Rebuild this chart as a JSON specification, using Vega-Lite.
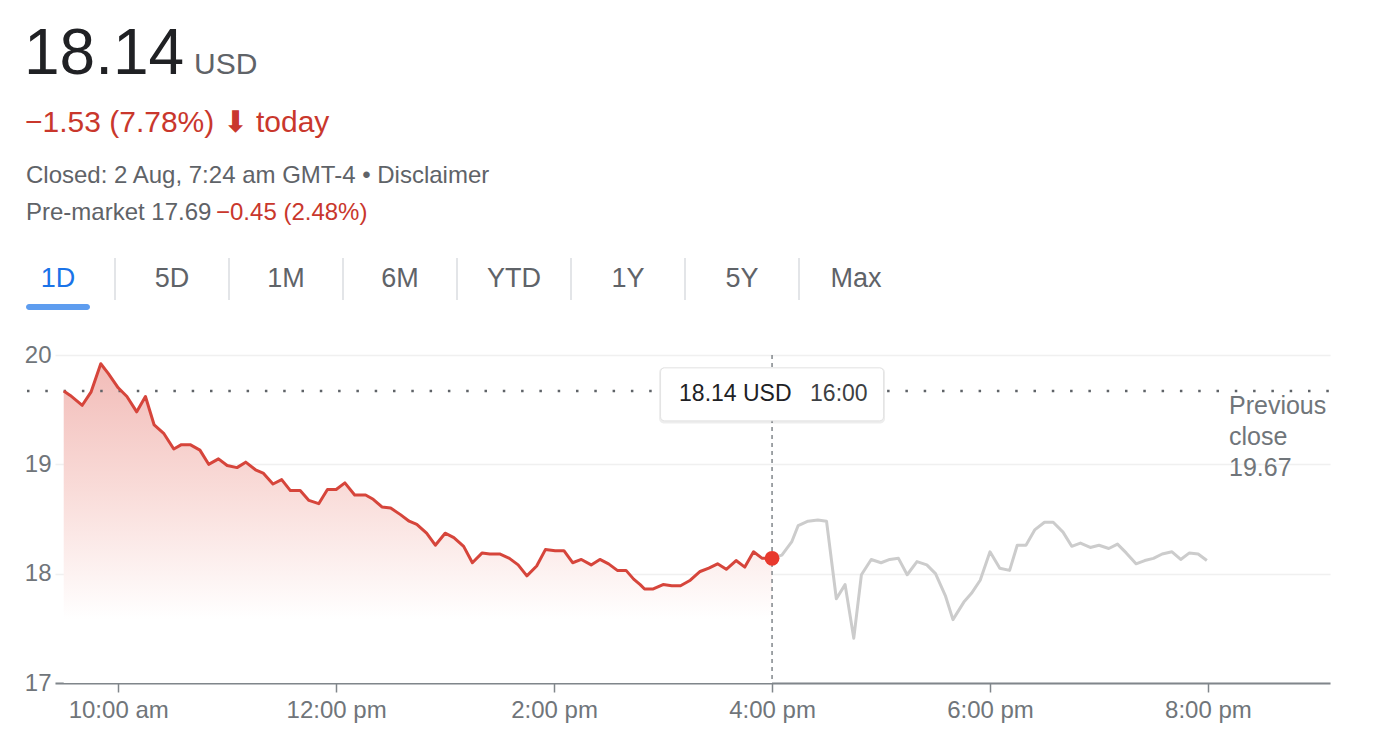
{
  "$schema": "https://vega.github.io/schema/vega-lite/v6.json",
  "background": "white",
  "padding": {"left": 24, "top": 10, "right": 52, "bottom": 28},
  "bounds": "flush",
  "spacing": 55,
  "config": {"font": "Liberation Sans", "view": {"stroke": null}},
  "datasets": {
    "prices": [
      {"t": 9.5, "price": 19.67, "session": "regular"},
      {"t": 9.56, "price": 19.63, "session": "regular"},
      {"t": 9.67, "price": 19.54, "session": "regular"},
      {"t": 9.75, "price": 19.66, "session": "regular"},
      {"t": 9.84, "price": 19.92, "session": "regular"},
      {"t": 9.91, "price": 19.83, "session": "regular"},
      {"t": 10.0, "price": 19.70, "session": "regular"},
      {"t": 10.08, "price": 19.62, "session": "regular"},
      {"t": 10.17, "price": 19.48, "session": "regular"},
      {"t": 10.25, "price": 19.62, "session": "regular"},
      {"t": 10.33, "price": 19.36, "session": "regular"},
      {"t": 10.42, "price": 19.28, "session": "regular"},
      {"t": 10.51, "price": 19.14, "session": "regular"},
      {"t": 10.58, "price": 19.18, "session": "regular"},
      {"t": 10.66, "price": 19.18, "session": "regular"},
      {"t": 10.75, "price": 19.13, "session": "regular"},
      {"t": 10.83, "price": 19.00, "session": "regular"},
      {"t": 10.92, "price": 19.05, "session": "regular"},
      {"t": 11.0, "price": 18.99, "session": "regular"},
      {"t": 11.09, "price": 18.97, "session": "regular"},
      {"t": 11.17, "price": 19.02, "session": "regular"},
      {"t": 11.26, "price": 18.95, "session": "regular"},
      {"t": 11.33, "price": 18.92, "session": "regular"},
      {"t": 11.42, "price": 18.82, "session": "regular"},
      {"t": 11.5, "price": 18.86, "session": "regular"},
      {"t": 11.58, "price": 18.76, "session": "regular"},
      {"t": 11.67, "price": 18.76, "session": "regular"},
      {"t": 11.75, "price": 18.67, "session": "regular"},
      {"t": 11.84, "price": 18.64, "session": "regular"},
      {"t": 11.92, "price": 18.77, "session": "regular"},
      {"t": 12.0, "price": 18.77, "session": "regular"},
      {"t": 12.08, "price": 18.83, "session": "regular"},
      {"t": 12.17, "price": 18.72, "session": "regular"},
      {"t": 12.27, "price": 18.72, "session": "regular"},
      {"t": 12.34, "price": 18.68, "session": "regular"},
      {"t": 12.42, "price": 18.61, "session": "regular"},
      {"t": 12.5, "price": 18.60, "session": "regular"},
      {"t": 12.59, "price": 18.54, "session": "regular"},
      {"t": 12.67, "price": 18.48, "session": "regular"},
      {"t": 12.74, "price": 18.45, "session": "regular"},
      {"t": 12.83, "price": 18.37, "session": "regular"},
      {"t": 12.91, "price": 18.26, "session": "regular"},
      {"t": 13.0, "price": 18.37, "session": "regular"},
      {"t": 13.08, "price": 18.33, "session": "regular"},
      {"t": 13.17, "price": 18.25, "session": "regular"},
      {"t": 13.25, "price": 18.10, "session": "regular"},
      {"t": 13.34, "price": 18.19, "session": "regular"},
      {"t": 13.41, "price": 18.18, "session": "regular"},
      {"t": 13.5, "price": 18.18, "session": "regular"},
      {"t": 13.59, "price": 18.14, "session": "regular"},
      {"t": 13.67, "price": 18.08, "session": "regular"},
      {"t": 13.75, "price": 17.98, "session": "regular"},
      {"t": 13.84, "price": 18.07, "session": "regular"},
      {"t": 13.92, "price": 18.22, "session": "regular"},
      {"t": 14.01, "price": 18.21, "session": "regular"},
      {"t": 14.09, "price": 18.21, "session": "regular"},
      {"t": 14.17, "price": 18.10, "session": "regular"},
      {"t": 14.25, "price": 18.13, "session": "regular"},
      {"t": 14.34, "price": 18.08, "session": "regular"},
      {"t": 14.42, "price": 18.13, "session": "regular"},
      {"t": 14.5, "price": 18.09, "session": "regular"},
      {"t": 14.58, "price": 18.03, "session": "regular"},
      {"t": 14.66, "price": 18.03, "session": "regular"},
      {"t": 14.73, "price": 17.95, "session": "regular"},
      {"t": 14.79, "price": 17.90, "session": "regular"},
      {"t": 14.83, "price": 17.86, "session": "regular"},
      {"t": 14.91, "price": 17.86, "session": "regular"},
      {"t": 15.0, "price": 17.90, "session": "regular"},
      {"t": 15.08, "price": 17.89, "session": "regular"},
      {"t": 15.16, "price": 17.89, "session": "regular"},
      {"t": 15.25, "price": 17.94, "session": "regular"},
      {"t": 15.34, "price": 18.02, "session": "regular"},
      {"t": 15.42, "price": 18.05, "session": "regular"},
      {"t": 15.5, "price": 18.09, "session": "regular"},
      {"t": 15.58, "price": 18.04, "session": "regular"},
      {"t": 15.67, "price": 18.12, "session": "regular"},
      {"t": 15.75, "price": 18.06, "session": "regular"},
      {"t": 15.83, "price": 18.20, "session": "regular"},
      {"t": 15.91, "price": 18.14, "session": "regular"},
      {"t": 16.0, "price": 18.14, "session": "regular"},
      {"t": 16.0, "price": 18.14, "session": "after"},
      {"t": 16.09, "price": 18.17, "session": "after"},
      {"t": 16.18, "price": 18.29, "session": "after"},
      {"t": 16.24, "price": 18.44, "session": "after"},
      {"t": 16.33, "price": 18.48, "session": "after"},
      {"t": 16.42, "price": 18.49, "session": "after"},
      {"t": 16.5, "price": 18.48, "session": "after"},
      {"t": 16.59, "price": 17.77, "session": "after"},
      {"t": 16.67, "price": 17.90, "session": "after"},
      {"t": 16.75, "price": 17.41, "session": "after"},
      {"t": 16.82, "price": 17.99, "session": "after"},
      {"t": 16.91, "price": 18.13, "session": "after"},
      {"t": 17.0, "price": 18.10, "session": "after"},
      {"t": 17.08, "price": 18.13, "session": "after"},
      {"t": 17.16, "price": 18.14, "session": "after"},
      {"t": 17.24, "price": 17.99, "session": "after"},
      {"t": 17.33, "price": 18.11, "session": "after"},
      {"t": 17.42, "price": 18.08, "session": "after"},
      {"t": 17.5, "price": 18.00, "session": "after"},
      {"t": 17.59, "price": 17.80, "session": "after"},
      {"t": 17.66, "price": 17.58, "session": "after"},
      {"t": 17.76, "price": 17.74, "session": "after"},
      {"t": 17.83, "price": 17.82, "session": "after"},
      {"t": 17.91, "price": 17.94, "session": "after"},
      {"t": 18.0, "price": 18.20, "session": "after"},
      {"t": 18.09, "price": 18.05, "session": "after"},
      {"t": 18.18, "price": 18.03, "session": "after"},
      {"t": 18.25, "price": 18.26, "session": "after"},
      {"t": 18.33, "price": 18.26, "session": "after"},
      {"t": 18.41, "price": 18.40, "session": "after"},
      {"t": 18.5, "price": 18.47, "session": "after"},
      {"t": 18.58, "price": 18.47, "session": "after"},
      {"t": 18.67, "price": 18.38, "session": "after"},
      {"t": 18.75, "price": 18.25, "session": "after"},
      {"t": 18.83, "price": 18.28, "session": "after"},
      {"t": 18.92, "price": 18.24, "session": "after"},
      {"t": 19.0, "price": 18.26, "session": "after"},
      {"t": 19.09, "price": 18.23, "session": "after"},
      {"t": 19.17, "price": 18.27, "session": "after"},
      {"t": 19.25, "price": 18.19, "session": "after"},
      {"t": 19.34, "price": 18.09, "session": "after"},
      {"t": 19.42, "price": 18.12, "session": "after"},
      {"t": 19.5, "price": 18.14, "session": "after"},
      {"t": 19.58, "price": 18.18, "session": "after"},
      {"t": 19.67, "price": 18.20, "session": "after"},
      {"t": 19.75, "price": 18.13, "session": "after"},
      {"t": 19.83, "price": 18.19, "session": "after"},
      {"t": 19.91, "price": 18.18, "session": "after"},
      {"t": 19.99, "price": 18.12, "session": "after"}
    ],
    "tabs": [
      {"tab": "1D", "selected": true},
      {"tab": "5D", "selected": false},
      {"tab": "1M", "selected": false},
      {"tab": "6M", "selected": false},
      {"tab": "YTD", "selected": false},
      {"tab": "1Y", "selected": false},
      {"tab": "5Y", "selected": false},
      {"tab": "Max", "selected": false}
    ],
    "marker": [
      {"t": 16, "price": 18.14, "label": "18.14 USD", "time": "16:00"}
    ],
    "ref": [
      {"prev_close": 19.67, "label": "Previous\nclose\n19.67"}
    ]
  },
  "vconcat": [
    {
      "width": 10,
      "height": 193,
      "encoding": {
        "y": {"field": "line", "type": "nominal", "axis": null,
              "scale": {"type": "point", "domain": ["price", "change", "status", "premarket"], "range": [64, 210], "padding": 0}}
      },
      "layer": [
        {"data": {"values": [{"line": "price", "text": "18.14"}]},
         "mark": {"type": "text", "align": "left", "baseline": "alphabetic", "fontSize": 64, "color": "#202124", "dx": -36},
         "encoding": {"text": {"field": "text"}}},
        {"data": {"values": [{"line": "price", "text": "USD"}]},
         "mark": {"type": "text", "align": "left", "baseline": "alphabetic", "fontSize": 30, "color": "#5f6368", "dx": 134},
         "encoding": {"text": {"field": "text"}}},
        {"data": {"values": [{"line": "change", "text": "−1.53 (7.78%) ⬇ today"}]},
         "mark": {"type": "text", "align": "left", "baseline": "alphabetic", "fontSize": 30, "color": "#c9372c", "dx": -35, "dy": 9},
         "encoding": {"text": {"field": "text"}}},
        {"data": {"values": [{"line": "status", "text": "Closed: 2 Aug, 7:24 am GMT-4 • Disclaimer"}]},
         "mark": {"type": "text", "align": "left", "baseline": "alphabetic", "fontSize": 24, "color": "#5f6368", "dx": -34, "dy": 12},
         "encoding": {"text": {"field": "text"}}},
        {"data": {"values": [{"line": "premarket", "text": "Pre-market 17.69"}]},
         "mark": {"type": "text", "align": "left", "baseline": "alphabetic", "fontSize": 24, "color": "#5f6368", "dx": -34},
         "encoding": {"text": {"field": "text"}}},
        {"data": {"values": [{"line": "premarket", "text": "−0.45 (2.48%)"}]},
         "mark": {"type": "text", "align": "left", "baseline": "alphabetic", "fontSize": 24, "color": "#c9372c", "dx": 156},
         "encoding": {"text": {"field": "text"}}}
      ]
    },
    {
      "width": 858,
      "height": 42,
      "data": {"name": "tabs"},
      "encoding": {
        "x": {"field": "tab", "type": "nominal", "axis": null,
              "scale": {"type": "band", "domain": ["1D", "5D", "1M", "6M", "YTD", "1Y", "5Y", "Max"], "range": [-54, 858], "paddingInner": 0, "paddingOuter": 0}}
      },
      "layer": [
        {"transform": [{"filter": "datum.tab != '1D'"}],
         "mark": {"type": "rule", "color": "#dadce0", "strokeWidth": 1.5},
         "encoding": {"x": {"field": "tab", "type": "nominal", "bandPosition": 0}}},
        {"mark": {"type": "text", "fontSize": 27, "baseline": "middle"},
         "encoding": {
           "text": {"field": "tab"},
           "color": {"condition": {"test": "datum.selected", "value": "#1a73e8"}, "value": "#5f6368"}
         }},
        {"transform": [{"filter": "datum.selected"}],
         "mark": {"type": "tick", "orient": "horizontal", "size": 64, "thickness": 6, "color": "#1a73e8", "yOffset": 28, "cornerRadius": 3}}
      ]
    },
    {
      "width": 1275,
      "height": 328,
      "layer": [
        {
          "data": {"name": "prices"},
          "transform": [{"filter": "datum.session == 'regular'"}],
          "mark": {"type": "area", "color": {"gradient": "linear", "x1": 0, "y1": 0, "x2": 0, "y2": 1,
                   "stops": [{"offset": 0, "color": "#f2bcb8"}, {"offset": 0.4, "color": "#f9dcd9"}, {"offset": 0.8, "color": "#ffffff"}]}},
          "encoding": {
            "x": {"field": "t", "type": "quantitative",
                  "scale": {"domain": [9.42, 21.12], "nice": false, "zero": false},
                  "axis": {"title": null, "values": [10, 12, 14, 16, 18, 20], "grid": false,
                           "labelExpr": "datum.value == 10 ? '10:00 am' : (datum.value == 12 ? 12 : datum.value - 12) + ':00 pm'",
                           "domainColor": "#80868b", "domainWidth": 2, "tickColor": "#80868b", "tickSize": 9, "tickWidth": 1.5,
                           "labelPadding": 6, "labelFontSize": 24, "labelColor": "#70757a", "labelFont": "Liberation Sans"}},
            "y": {"field": "price", "type": "quantitative",
                  "scale": {"domain": [17, 20], "nice": false, "zero": false},
                  "axis": {"title": null, "values": [17, 18, 19, 20], "format": ".0f", "domain": false, "ticks": false,
                           "gridColor": "#f0f0f0", "gridWidth": 1.5,
                           "labelPadding": 4, "labelFontSize": 24, "labelColor": "#70757a", "labelFont": "Liberation Sans"}},
            "y2": {"datum": 17}
          }
        },
        {
          "data": {"name": "ref"},
          "mark": {"type": "rule", "color": "#5f6368", "strokeWidth": 2.5, "strokeDash": [2.5, 15.8]},
          "encoding": {
            "x": {"datum": 9.163},
            "x2": {"datum": 21.12},
            "y": {"field": "prev_close", "type": "quantitative"}
          }
        },
        {
          "data": {"name": "marker"},
          "mark": {"type": "rule", "color": "#80868b", "strokeWidth": 1.5, "strokeDash": [4, 4]},
          "encoding": {
            "x": {"field": "t", "type": "quantitative"},
            "y": {"datum": 20},
            "y2": {"datum": 17}
          }
        },
        {
          "data": {"name": "prices"},
          "mark": {"type": "line", "strokeWidth": 3, "strokeJoin": "round"},
          "encoding": {
            "x": {"field": "t", "type": "quantitative"},
            "y": {"field": "price", "type": "quantitative"},
            "color": {"field": "session", "type": "nominal", "legend": null,
                      "scale": {"domain": ["regular", "after"], "range": ["#d6453b", "#cccccc"]}}
          }
        },
        {
          "data": {"name": "marker"},
          "mark": {"type": "point", "filled": true, "size": 220, "color": "#e8392d", "opacity": 1},
          "encoding": {
            "x": {"field": "t", "type": "quantitative"},
            "y": {"field": "price", "type": "quantitative"}
          }
        },
        {
          "data": {"name": "marker"},
          "mark": {"type": "rect", "width": 226, "height": 56, "color": "#000000", "opacity": 0.07, "cornerRadius": 5},
          "encoding": {
            "x": {"field": "t", "type": "quantitative"},
            "y": {"datum": 19.63}
          }
        },
        {
          "data": {"name": "marker"},
          "mark": {"type": "rect", "width": 223, "height": 53, "color": "#ffffff", "stroke": "#e3e3e3", "strokeWidth": 1, "cornerRadius": 4},
          "encoding": {
            "x": {"field": "t", "type": "quantitative"},
            "y": {"datum": 19.64}
          }
        },
        {
          "data": {"name": "marker"},
          "mark": {"type": "text", "align": "left", "baseline": "middle", "fontSize": 23, "color": "#202124", "dx": -93},
          "encoding": {
            "x": {"field": "t", "type": "quantitative"},
            "y": {"datum": 19.64},
            "text": {"field": "label"}
          }
        },
        {
          "data": {"name": "marker"},
          "mark": {"type": "text", "align": "left", "baseline": "middle", "fontSize": 23, "color": "#3c4043", "dx": 38},
          "encoding": {
            "x": {"field": "t", "type": "quantitative"},
            "y": {"datum": 19.64},
            "text": {"field": "time"}
          }
        },
        {
          "data": {"name": "ref"},
          "mark": {"type": "text", "align": "left", "baseline": "top", "fontSize": 25, "color": "#70757a", "lineBreak": "\n", "lineHeight": 31, "dx": -101, "dy": 3},
          "encoding": {
            "x": {"value": "width"},
            "y": {"field": "prev_close", "type": "quantitative"},
            "text": {"field": "label"}
          }
        }
      ]
    }
  ]
}
